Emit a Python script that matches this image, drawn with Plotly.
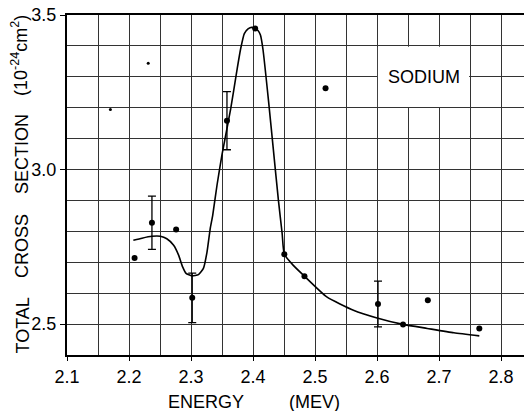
import plotly.graph_objects as go

# Measured points: energy (MeV), total cross section (1e-24 cm^2), error (0 = none drawn)
energy = [2.209, 2.237, 2.276, 2.302, 2.358, 2.4035, 2.4505, 2.483, 2.517, 2.6016, 2.642, 2.682, 2.742, 2.765]
sigma = [2.714, 2.828, 2.806, 2.585, 3.158, 3.456, 2.726, 2.655, 3.263, 2.565, 2.499, 2.577, 2.378, 2.486]
err = [0, 0.086, 0, 0.080, 0.094, 0, 0, 0, 0, 0.074, 0, 0, 0, 0]

# Small stray dots in the figure
speck_energy = [2.170, 2.231]
speck_sigma = [3.194, 3.344]

# Smooth fitted curve
curve_energy = [2.207, 2.221, 2.237, 2.2505, 2.261, 2.272, 2.280, 2.2865, 2.292, 2.3015, 2.312,
                2.320, 2.3258, 2.331, 2.335, 2.3420, 2.350, 2.364, 2.374, 2.380, 2.386, 2.392,
                2.398, 2.4035, 2.408, 2.412, 2.416, 2.425, 2.433, 2.441, 2.447, 2.4505, 2.465,
                2.483, 2.519, 2.562, 2.600, 2.642, 2.681, 2.724, 2.765]
curve_sigma = [2.771, 2.778, 2.784, 2.784, 2.776, 2.755, 2.723, 2.685, 2.664, 2.656, 2.660,
               2.680, 2.733, 2.809, 2.852, 2.950, 3.048, 3.196, 3.320, 3.390, 3.440, 3.455,
               3.460, 3.456, 3.450, 3.435, 3.390, 3.223, 3.061, 2.900, 2.793, 2.726, 2.690,
               2.655, 2.588, 2.545, 2.520, 2.499, 2.486, 2.472, 2.462]

x_ticks = [2.1, 2.2, 2.3, 2.4, 2.5, 2.6, 2.7, 2.8]
y_ticks = [2.5, 3.0, 3.5]

FONT = "Liberation Sans, Arial, sans-serif"

fig = go.Figure()

fig.add_trace(go.Scatter(x=curve_energy, y=curve_sigma, mode="lines",
                         line=dict(color="black", width=1.6, shape="spline", smoothing=0.5),
                         hoverinfo="skip", showlegend=False))

e_plain = [e for e, d in zip(energy, err) if d == 0]
s_plain = [s for s, d in zip(sigma, err) if d == 0]
e_err = [e for e, d in zip(energy, err) if d > 0]
s_err = [s for s, d in zip(sigma, err) if d > 0]
d_err = [d for d in err if d > 0]

fig.add_trace(go.Scatter(x=e_plain, y=s_plain, mode="markers", cliponaxis=False,
                         marker=dict(color="black", size=6), showlegend=False))
fig.add_trace(go.Scatter(x=e_err, y=s_err, mode="markers", cliponaxis=False,
                         marker=dict(color="black", size=6),
                         error_y=dict(type="data", array=d_err, visible=True,
                                      color="black", thickness=1.3, width=4),
                         showlegend=False))
fig.add_trace(go.Scatter(x=speck_energy, y=speck_sigma, mode="markers",
                         marker=dict(color="black", size=3), showlegend=False))

# white box behind label
fig.add_shape(type="rect", x0=2.6015, x1=2.7485, y0=3.2025, y1=3.3975,
              fillcolor="white", line=dict(width=0), layer="between")
fig.add_annotation(x=2.675, y=3.3, text="SODIUM", showarrow=False,
                   font=dict(family=FONT, size=18, color="black"))

W, H = 524, 411
L, R, T, B = 67, 0, 15, 56
pw, ph = W - L - R, H - T - B


def px(xp, yp):
    return (xp - L) / pw, 1 - (yp - T) / ph


# axis titles (positions in pixels converted to paper)
for txt, xc, yc in [("ENERGY", 206, 402), ("(MEV)", 314, 402)]:
    xx, yy = px(xc, yc)
    fig.add_annotation(x=xx, y=yy, xref="paper", yref="paper", text=txt, showarrow=False,
                       xanchor="center", yanchor="middle",
                       font=dict(family=FONT, size=18, color="black"))

for txt, xc, yc in [("TOTAL", 22, 325.5), ("CROSS", 22, 246), ("SECTION", 22, 154),
                    ("(10<sup>-24</sup>cm<sup>2</sup>)", 19, 56)]:
    xx, yy = px(xc, yc)
    fig.add_annotation(x=xx, y=yy, xref="paper", yref="paper", text=txt, textangle=-90,
                       showarrow=False, xanchor="center", yanchor="middle",
                       font=dict(family=FONT, size=18, color="black"))

x_max = 2.1 + pw / 620.0

fig.update_layout(
    width=W, height=H, margin=dict(l=L, r=R, t=T, b=B, pad=0),
    paper_bgcolor="white", plot_bgcolor="white",
    font=dict(family=FONT, size=18, color="black"),
    xaxis=dict(range=[2.1, x_max], tickvals=x_ticks, ticktext=[f"{v:.1f}" for v in x_ticks],
               showline=True, linecolor="black", linewidth=2, mirror=True,
               ticks="outside", ticklen=4, tickwidth=1, tickcolor="black",
               showgrid=True, gridcolor="#333333", gridwidth=1, zeroline=False,
               minor=dict(dtick=0.05, tick0=2.1, showgrid=True, gridcolor="#333333", gridwidth=1),
               tickfont=dict(family=FONT, size=18)),
    yaxis=dict(range=[2.4, 3.5], tickvals=y_ticks, ticktext=[f"{v:.1f}" for v in y_ticks],
               showline=True, linecolor="black", linewidth=2,
               ticks="outside", ticklen=5, tickwidth=1, tickcolor="black",
               showgrid=True, gridcolor="#333333", gridwidth=1, zeroline=False,
               minor=dict(dtick=0.1, tick0=2.4, showgrid=True, gridcolor="#333333", gridwidth=1),
               tickfont=dict(family=FONT, size=18)),
)

fig.write_html("out.html", config={"displayModeBar": False},
               post_script="document.body.style.margin='0px';document.body.style.overflow='hidden';")
